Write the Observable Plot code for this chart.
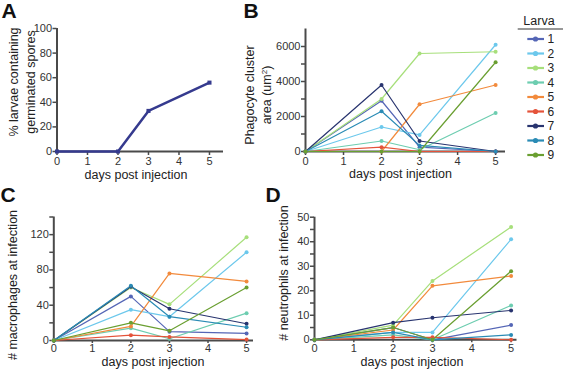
<!DOCTYPE html>
<html><head><meta charset="utf-8">
<script src="https://cdn.jsdelivr.net/npm/d3@7"></script>
<script src="https://cdn.jsdelivr.net/npm/@observablehq/plot@0.6"></script>
<style>
body{margin:0;background:#fff;font-family:"Liberation Sans",Arial,sans-serif;}
#fig{position:relative;width:563px;height:369px;overflow:hidden;background:#fff;}
.letter{position:absolute;font-weight:bold;font-size:21px;line-height:1;color:#111;}
.title{position:absolute;white-space:nowrap;text-align:center;font-size:12.5px;line-height:1;color:#222;transform:translate(-50%,-50%);}
.ytitle{position:absolute;white-space:nowrap;text-align:center;font-size:12.5px;line-height:16.5px;color:#222;transform:translate(-50%,-50%) rotate(-90deg);}
</style>
</head><body>
<div id="fig"></div>
<script>
// ---------- data ----------
const days = [0, 2, 3, 5];
const xTicks = [0, 1, 2, 3, 4, 5];
const larvae = ["1", "2", "3", "4", "5", "6", "7", "8", "9"];
const larvaColors = ["#5566b6", "#6cc8ec", "#a7df7b", "#6dcdb0", "#f28a3c", "#e4533a", "#28346f", "#2a8bb5", "#6a9f31"];

// Panel A: % larvae containing germinated spores
const pctGerminated = [0, 0, 33, 56];
const aYTicks = [0, 20, 40, 60, 80, 100];

// Panel B: phagocyte cluster area (um^2), one row per larva (days 0,2,3,5)
const clusterArea = [
  [0, 2900, 250, 0],
  [0, 1400, 950, 6100],
  [0, 3000, 5600, 5700],
  [0, 600, 100, 2200],
  [0, 0, 2700, 3800],
  [0, 250, 0, 0],
  [0, 3800, 600, 0],
  [0, 2300, 350, 0],
  [0, 0, 0, 5100]
];
const bYTicks = [0, 1000, 2000, 3000, 4000, 5000, 6000];

// Panel C: # macrophages at infection
const macrophages = [
  [0, 50, 10, 8],
  [0, 35, 27, 100],
  [0, 60, 41, 117],
  [0, 14, 2, 31],
  [0, 16, 76, 67],
  [0, 6, 4, 1],
  [0, 61, 36, 19],
  [0, 62, 27, 15],
  [0, 20, 11, 60]
];
const cYTicks = [0, 20, 40, 60, 80, 100, 120, 140];

// Panel D: # neutrophils at infection
const neutrophils = [
  [0, 5, 0, 6],
  [0, 3, 3, 41],
  [0, 6, 24, 46],
  [0, 2, 0, 14],
  [0, 4, 22, 26],
  [0, 1, 1, 0],
  [0, 7, 9, 12],
  [0, 3, 0, 2],
  [0, 5, 0, 28]
];
const dYTicks = [0, 5, 10, 15, 20, 25, 30, 35, 40, 45, 50];

// ---------- drawing ----------
const fig = document.getElementById("fig");
const axisColor = "#4a4a4a";
const font = "'Liberation Sans', Arial, sans-serif";

function toRows(matrix) {
  const rows = [];
  matrix.forEach((vals, i) => vals.forEach((v, j) => rows.push({larva: larvae[i], day: days[j], value: v})));
  return rows;
}

function panel(cfg) {
  const {left, top, width, height, x0, x1, yTop, y0, xMax, yMax, yTicks, yEvery, xTickSize, xTickPadding, marks} = cfg;
  const chart = Plot.plot({
    width, height,
    marginLeft: x0 - left, marginRight: left + width - x1,
    marginTop: yTop - top, marginBottom: top + height - y0,
    style: {fontFamily: font, fontSize: "11px", color: "#333", background: "transparent", overflow: "visible"},
    x: {domain: [0, xMax]},
    y: {domain: [0, yMax]},
    color: {domain: larvae, range: larvaColors},
    marks: [
      Plot.axisX({ticks: xTicks, tickSize: xTickSize, tickPadding: xTickPadding, label: null, stroke: axisColor, strokeWidth: 1.5,
        tickFormat: d => String(d)}),
      Plot.axisY({ticks: yTicks, tickSize: 4, tickPadding: 1, label: null, stroke: axisColor, strokeWidth: 1.5,
        tickFormat: d => (d % yEvery === 0 ? String(d) : "")}),
      Plot.ruleX([0], {stroke: axisColor, strokeWidth: 2}),
      Plot.ruleY([0], {stroke: axisColor, strokeWidth: 2}),
      ...marks
    ]
  });
  chart.style.position = "absolute";
  chart.style.left = left + "px";
  chart.style.top = top + "px";
  fig.appendChild(chart);
}

function seriesMarks(matrix) {
  const rows = toRows(matrix);
  return [
    Plot.line(rows, {x: "day", y: "value", z: "larva", stroke: "larva", strokeWidth: 1.2}),
    Plot.dot(rows, {x: "day", y: "value", fill: "larva", r: 2})
  ];
}

// Panel A
const aRows = days.map((d, i) => ({day: d, value: pctGerminated[i]}));
panel({left: 0, top: 0, width: 240, height: 185, x0: 56.5, x1: 223, yTop: 28, y0: 151,
  xMax: 5.46, yMax: 100, yTicks: aYTicks, yEvery: 20, xTickSize: 4, xTickPadding: 2,
  marks: [
    Plot.line(aRows, {x: "day", y: "value", stroke: "#353a8e", strokeWidth: 2.5}),
    Plot.dot(aRows, {x: "day", y: "value", fill: "#353a8e", symbol: "square", r: 2.3})
  ]});

// Panel B
panel({left: 270, top: 0, width: 240, height: 185, x0: 305, x1: 505, yTop: 28.5, y0: 151,
  xMax: 5.26, yMax: 7000, yTicks: bYTicks, yEvery: 2000, xTickSize: 4, xTickPadding: 2,
  marks: seriesMarks(clusterArea)});

// Panel C
panel({left: 0, top: 185, width: 260, height: 184, x0: 53.3, x1: 253, yTop: 216.5, y0: 340,
  xMax: 5.18, yMax: 140, yTicks: cYTicks, yEvery: 40, xTickSize: 3, xTickPadding: 1,
  marks: seriesMarks(macrophages)});

// Panel D
panel({left: 280, top: 185, width: 250, height: 184, x0: 314, x1: 516.5, yTop: 216.7, y0: 339.3,
  xMax: 5.15, yMax: 50, yTicks: dYTicks, yEvery: 10, xTickSize: 3, xTickPadding: 1,
  marks: seriesMarks(neutrophils)});

// ---------- text ----------
function addDiv(cls, html, x, y) {
  const d = document.createElement("div");
  d.className = cls;
  d.innerHTML = html;
  d.style.left = x + "px";
  d.style.top = y + "px";
  fig.appendChild(d);
}
addDiv("letter", "A", 1.5, 0.3);
addDiv("letter", "B", 243.5, 0.3);
addDiv("letter", "C", 0.5, 184);
addDiv("letter", "D", 265.5, 184);

addDiv("title", "days post injection", 136, 174.5);
addDiv("title", "days post injection", 400.5, 173.5);
addDiv("title", "days post injection", 153, 361.5);
addDiv("title", "days post injection", 412, 361.5);

addDiv("ytitle", "% larvae containing<br>germinated spores", 21.8, 82);
addDiv("ytitle", "Phagocyte cluster<br>area (um<sup style=\"font-size:8px;vertical-align:4px;line-height:0\">2</sup>)", 258.4, 95);
addDiv("ytitle", "# macrophages at infection", 13, 285);
addDiv("ytitle", "# neutrophils at infection", 284, 273);

// ---------- legend ----------
const leg = d3.select(fig).append("svg")
  .style("position", "absolute").style("left", "505px").style("top", "0px")
  .attr("width", 58).attr("height", 170)
  .style("font-family", font);
leg.append("text").attr("x", 34).attr("y", 25).attr("text-anchor", "middle")
  .attr("font-size", 12.5).attr("fill", "#222").text("Larva");
leg.append("line").attr("x1", 12.7).attr("x2", 58).attr("y1", 29).attr("y2", 29)
  .attr("stroke", "#333").attr("stroke-width", 1.2);
const items = leg.selectAll("g.item").data(larvae).join("g")
  .attr("transform", (d, i) => `translate(0,${39 + i * 14.5})`);
items.append("line").attr("x1", 22.3).attr("x2", 39).attr("y1", 0).attr("y2", 0)
  .attr("stroke", (d, i) => larvaColors[i]).attr("stroke-width", 2.2);
items.append("circle").attr("cx", 30.5).attr("cy", 0).attr("r", 2.6)
  .attr("fill", (d, i) => larvaColors[i]);
items.append("text").attr("x", 42.5).attr("y", 0).attr("dy", "0.35em")
  .attr("font-size", 12).attr("fill", "#222").text(d => d);
</script>
</body></html>
